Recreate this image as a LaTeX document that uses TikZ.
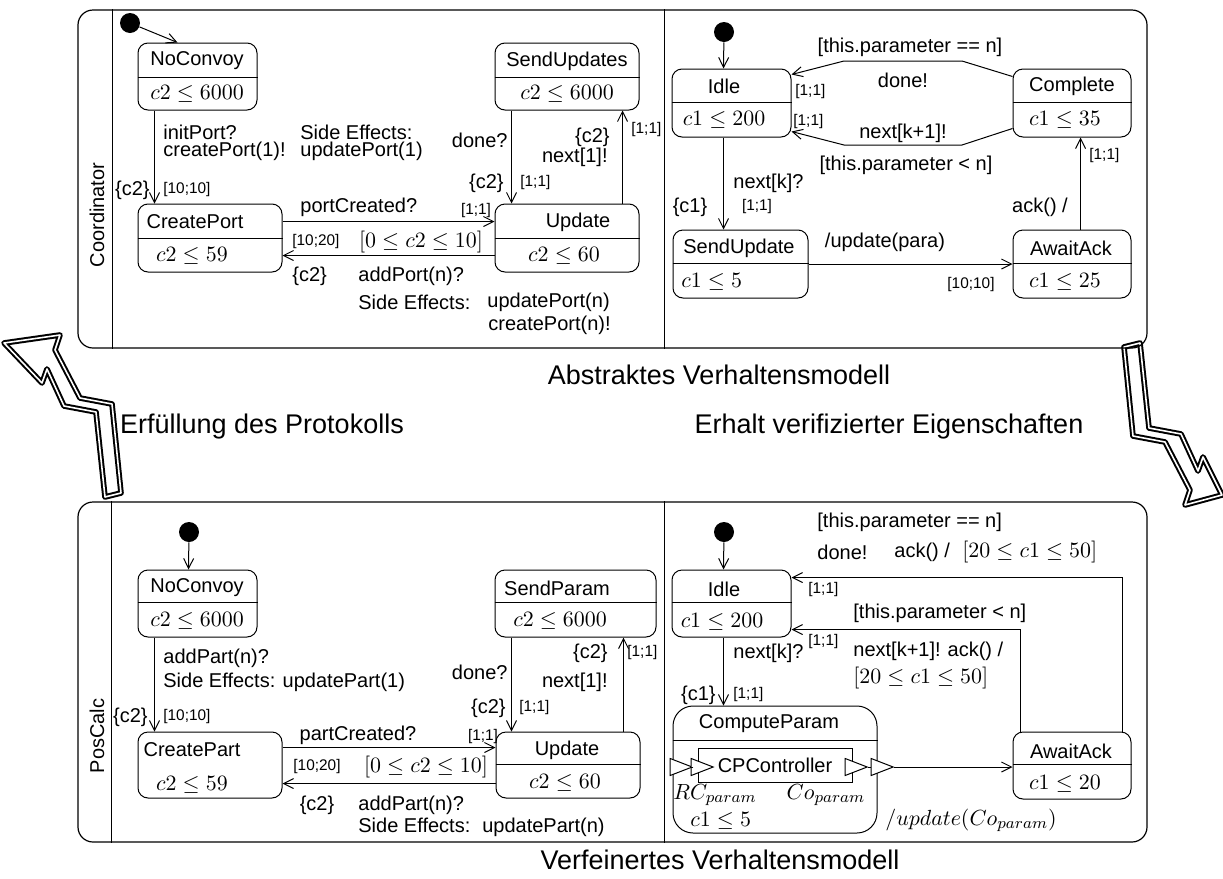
\documentclass[tikz,border=0pt]{standalone}
\usepackage{fontspec}
\setmainfont{Liberation Sans}
\usetikzlibrary{arrows.meta,fit,shapes.geometric}
\begin{document}
\begin{tikzpicture}[x=0.5pt,y=-0.5pt,
  every node/.style={inner sep=0pt, font=\fontsize{10}{12}\selectfont},
  sm/.style={font=\fontsize{7.7}{9}\selectfont},
  mth/.style={font=\fontsize{10.8}{13}\selectfont},
  caption/.style={font=\fontsize{13.5}{16}\selectfont},
  panel/.style={draw, line width=0.6pt, rounded corners=7.5pt},
  st/.style={draw, line width=0.5pt, rounded corners=5pt},
  tr/.style={draw, line width=0.5pt, -{Straight Barb[length=5pt,width=5pt]}},
  ln/.style={draw, line width=0.5pt},
  initdot/.style={circle, fill=black, minimum size=10pt},
  port/.style={draw, fill=white, line width=0.5pt, isosceles triangle,
    isosceles triangle stretches, minimum width=8.5pt, minimum height=11pt},
  bigarrow/.style={draw, fill=white, double, double distance=0.8pt,
    line width=1pt, line join=round}
]
\useasboundingbox (0,0) rectangle (1223,879);

% ---------- zigzag block arrows between the two models ----------
\draw[bigarrow] (4,343) -- (60,335) -- (55,350) -- (80,398) -- (112,404)
  -- (121,493) -- (105,497) -- (96,412) -- (64,406) -- (47,369)
  -- (42,383) -- cycle;
\draw[bigarrow] (1222,495) -- (1185,505) -- (1190,490) -- (1165,442)
  -- (1133,436) -- (1124,347) -- (1140,343) -- (1149,428) -- (1181,434)
  -- (1198,471) -- (1203,457) -- cycle;

% ---------- upper panel: Coordinator ----------
\node[panel, fit={(78,10) (1147,348)}] (topbox) {};
\draw[ln] ([xshift=17.5pt]topbox.north west) -- ([xshift=17.5pt]topbox.south west);
\draw[ln] ([xshift=293.5pt]topbox.north west) -- ([xshift=293.5pt]topbox.south west);
\node[rotate=90] (lc) at (97,215) {Coordinator};

% left region
\node[initdot] (i1) at (130,23) {};
\node[st, fit={(138,43) (257,110)}] (nc1) {};
\node[st, fit={(138,204) (282,272)}] (cp1) {};
\node[st, fit={(495,43) (639,110)}] (su1) {};
\node[st, fit={(495,204) (639,272)}] (up1) {};
\foreach \n in {nc1,cp1,su1,up1}
  \draw[ln] ([yshift=-17.5pt]\n.north west) -- ([yshift=-17.5pt]\n.north east);
\node (nc1a) at (197,61) {NoConvoy};
\node[mth] (nc1b) at (197,94) {$c2\le 6000$};
\node (cp1a) at (195,222) {CreatePort};
\node[mth] (cp1b) at (192,256) {$c2\le 59$};
\node (su1a) at (567,61) {SendUpdates};
\node[mth] (su1b) at (567,94) {$c2\le 6000$};
\node (up1a) at (578,222) {Update};
\node[mth] (up1b) at (564,256) {$c2\le 60$};

\draw[tr] (i1) -- ([xshift=20pt]nc1.north west);
\draw[tr] ([xshift=8.5pt]nc1.south west) -- ([xshift=8.5pt]cp1.north west);
\draw[tr] ([yshift=-9pt]cp1.north east) -- ([yshift=-9pt]up1.north west);
\draw[tr] ([yshift=8.5pt]up1.south west) -- ([yshift=8.5pt]cp1.south east);
\draw[tr] ([xshift=8.5pt]su1.south west) -- ([xshift=8.5pt]up1.north west);
\draw[tr] ([xshift=-8.5pt]up1.north east) -- ([xshift=-8.5pt]su1.south east);

\node[anchor=west] (la1) at (163,132) {initPort?};
\node[anchor=west] (la2) at (163,151) {createPort(1)!};
\node[anchor=west] (la3) at (300,132) {Side Effects:};
\node[anchor=west] (la4) at (300,151) {updatePort(1)};
\node[anchor=east] (la5) at (150,190) {\{c2\}};
\node[sm,anchor=west] (la6) at (163,190) {[10;10]};
\node[anchor=west] (la7) at (300,207) {portCreated?};
\node[sm] (la8) at (476,211) {[1;1]};
\node[sm,anchor=west] (la9) at (292,242) {[10;20]};
\node[mth] (la10) at (421,242) {$[0\le c2\le 10]$};
\node[anchor=west] (la11) at (292,276) {\{c2\}};
\node[anchor=west] (la12) at (358,276) {addPort(n)?};
\node[anchor=west] (la13) at (358,302) {Side Effects:};
\node[anchor=west] (la14) at (487,302) {updatePort(n)};
\node[anchor=west] (la15) at (488,325) {createPort(n)!};
\node[anchor=east] (la16) at (508,140) {done?};
\node[anchor=east] (la17) at (504,183) {\{c2\}};
\node[sm,anchor=west] (la18) at (520,183) {[1;1]};
\node[anchor=east] (la19) at (610,137) {\{c2\}};
\node[anchor=east] (la20) at (608,157) {next[1]!};
\node[sm,anchor=west] (la21) at (631,130) {[1;1]};

% right region
\node[initdot] (i2) at (724,32) {};
\node[st, fit={(672,69) (791,137)}] (idle1) {};
\node[st, fit={(1013,69) (1131,137)}] (comp) {};
\node[st, fit={(673,230) (808,298)}] (sup) {};
\node[st, fit={(1013,230) (1131,298)}] (aw1) {};
\foreach \n in {idle1,comp,sup,aw1}
  \draw[ln] ([yshift=-17pt]\n.north west) -- ([yshift=-17pt]\n.north east);
\node (ida) at (724,86) {Idle};
\node[mth] (idb) at (724,120) {$c1\le 200$};
\node (coa) at (1072,86) {Complete};
\node[mth] (cob) at (1065,120) {$c1\le 35$};
\node (sua) at (739,248) {SendUpdate};
\node[mth,anchor=west] (sub) at (681,282) {$c1\le 5$};
\node (awa) at (1071,248) {AwaitAck};
\node[mth] (awb) at (1065,282) {$c1\le 25$};

\draw[tr] (i2) -- ([xshift=26pt]idle1.north west);
\draw[tr] ([yshift=-4pt]comp.north west) -- (962,61) -- (844,61) -- ([yshift=-3pt]idle1.north east);
\draw[tr] ([yshift=4.5pt]comp.south west) -- (962,145) -- (844,145) -- ([yshift=3pt]idle1.south east);
\draw[tr] ([xshift=26pt]idle1.south west) -- ([xshift=25.5pt]sup.north west);
\draw[tr] (sup.east) -- (aw1.west);
\draw[tr] ([xshift=34pt]aw1.north west) -- ([xshift=34pt]comp.south west);

\node (ra1) at (910,47) {[this.parameter == n]};
\node (ra2) at (903,80) {done!};
\node[sm,anchor=west] (ra3) at (795,92) {[1;1]};
\node[sm,anchor=west] (ra4) at (793,122) {[1;1]};
\node (ra5) at (903,133) {next[k+1]!};
\node (ra6) at (906,165) {[this.parameter < n]};
\node[anchor=west] (ra7) at (733,183) {next[k]?};
\node (ra8) at (690,207) {\{c1\}};
\node[sm] (ra9) at (757,207) {[1;1]};
\node (ra10) at (885,242) {/update(para)};
\node[sm] (ra11) at (971,285) {[10;10]};
\node (ra12) at (1040,207) {ack() /};
\node[sm,anchor=west] (ra13) at (1089,156) {[1;1]};

% ---------- captions ----------
\node[caption] (m1) at (719,375) {Abstraktes Verhaltensmodell};
\node[caption] (m2) at (262,427) {Erfüllung des Protokolls};
\node[caption] (m3) at (889,427) {Erhalt verifizierter Eigenschaften};
\node[caption] (m4) at (720,860) {Verfeinertes Verhaltensmodell};

% ---------- lower panel: PosCalc ----------
\node[panel, fit={(78,502) (1147,842)}] (botbox) {};
\draw[ln] ([xshift=17pt]botbox.north west) -- ([xshift=17pt]botbox.south west);
\draw[ln] ([xshift=293.5pt]botbox.north west) -- ([xshift=293.5pt]botbox.south west);
\node[rotate=90] (lp) at (97,736) {PosCalc};

% left region
\node[initdot] (i3) at (189,532) {};
\node[st, fit={(138,570) (257,637)}] (nc2) {};
\node[st, fit={(138,732) (282,798)}] (cp2) {};
\node[st, fit={(495,570) (656,637)}] (sp) {};
\node[st, fit={(496,732) (640,798)}] (up2) {};
\foreach \n in {nc2,sp,up2}
  \draw[ln] ([yshift=-16.5pt]\n.north west) -- ([yshift=-16.5pt]\n.north east);
\node (nc2a) at (197,588) {NoConvoy};
\node[mth] (nc2b) at (197,621) {$c2\le 6000$};
\node (cp2a) at (192,750) {CreatePart};
\node[mth] (cp2b) at (192,785) {$c2\le 59$};
\node (spa) at (557,588) {SendParam};
\node[mth] (spb) at (560,621) {$c2\le 6000$};
\node (up2a) at (567,750) {Update};
\node[mth] (up2b) at (565,783) {$c2\le 60$};

\draw[tr] (i3) -- ([xshift=25.5pt]nc2.north west);
\draw[tr] ([xshift=8.5pt]nc2.south west) -- ([xshift=8.5pt]cp2.north west);
\draw[tr] ([yshift=-8pt]cp2.north east) -- ([yshift=-8pt]up2.north west);
\draw[tr] ([yshift=7.5pt]up2.south west) -- ([yshift=7.5pt]cp2.south east);
\draw[tr] ([xshift=8.5pt]sp.south west) -- ([xshift=8pt]up2.north west);
\draw[tr] ([xshift=-8.5pt]up2.north east) -- ([xshift=-16.5pt]sp.south east);

\node[anchor=west] (lb1) at (163,658) {addPart(n)?};
\node[anchor=west] (lb2) at (163,682) {Side Effects: updatePart(1)};
\node[anchor=east] (lb3) at (148,717) {\{c2\}};
\node[sm,anchor=west] (lb4) at (163,717) {[10;10]};
\node (lb5) at (358,735) {partCreated?};
\node[sm] (lb6) at (483,737) {[1;1]};
\node[sm] (lb7) at (317,767) {[10;20]};
\node[mth] (lb8) at (426,767) {$[0\le c2\le 10]$};
\node (lb9) at (317,805) {\{c2\}};
\node[anchor=west] (lb10) at (358,805) {addPart(n)?};
\node[anchor=west] (lb11) at (358,827) {Side Effects:\hspace{0.6em}updatePart(n)};
\node[anchor=east] (lb12) at (508,672) {done?};
\node[anchor=east] (lb13) at (506,708) {\{c2\}};
\node[sm,anchor=west] (lb14) at (519,708) {[1;1]};
\node[anchor=east] (lb15) at (608,653) {\{c2\}};
\node[sm,anchor=west] (lb16) at (627,653) {[1;1]};
\node[anchor=east] (lb17) at (608,682) {next[1]!};

% right region
\node[initdot] (i4) at (724,532) {};
\node[st, fit={(672,570) (791,637)}] (idle2) {};
\node[st, fit={(1013,732) (1131,799)}] (aw2) {};
\node[st, rounded corners=10pt, fit={(673,706) (877,833)}] (cpar) {};
\foreach \n in {idle2,aw2}
  \draw[ln] ([yshift=-16.5pt]\n.north west) -- ([yshift=-16.5pt]\n.north east);
\draw[ln] ([yshift=-17.5pt]cpar.north west) -- ([yshift=-17.5pt]cpar.north east);
\node (id2a) at (724,589) {Idle};
\node[mth] (id2b) at (722,622) {$c1\le 200$};
\node (aw2a) at (1071,751) {AwaitAck};
\node[mth] (aw2b) at (1065,784) {$c1\le 20$};
\node (cpa) at (769,724) {ComputeParam};
\node[draw, line width=0.5pt, minimum width=77pt, minimum height=17pt] (cpc) at (775,765) {CPController};
\node[port] (p1) at (676,767) {};
\node[port] (p2) at (697,767) {};
\node[port] (p3) at (851,767) {};
\node[port] (p4) at (877,767) {};

\draw[tr] (i4) -- ([xshift=26pt]idle2.north west);
\draw[tr] ([xshift=55pt]aw2.north west) |- ([yshift=-4pt]idle2.north east);
\draw[tr] ([xshift=4pt]aw2.north west) |- ([yshift=4pt]idle2.south east);
\draw[tr] ([xshift=26pt]idle2.south west) -- ([xshift=25.5pt]cpar.north west);
\draw[ln] (p1.east) -- (p2.west);
\draw[ln] (p3.east) -- (p4.west);
\draw[tr] (p4.east) -- (p4.east -| aw2.west);

\node[anchor=west] (rb1) at (817,522) {[this.parameter == n]};
\node[anchor=west] (rb2) at (817,552) {done!};
\node[anchor=west] (rb3) at (894,552) {ack() /};
\node[mth,anchor=west] (rb4) at (962,552) {$[20\le c1\le 50]$};
\node[sm,anchor=west] (rb5) at (808,590) {[1;1]};
\node[anchor=west] (rb6) at (853,613) {[this.parameter < n]};
\node[sm,anchor=west] (rb7) at (808,642) {[1;1]};
\node[anchor=west] (rb8) at (853,651) {next[k+1]!\hspace{0.35em}ack() /};
\node[mth,anchor=west] (rb9) at (853,678) {$[20\le c1\le 50]$};
\node[anchor=west] (rb10) at (733,653) {next[k]?};
\node[anchor=east] (rb11) at (716,695) {\{c1\}};
\node[sm,anchor=west] (rb12) at (733,695) {[1;1]};
\node[mth,anchor=west] (rb13) at (673,795) {$RC_{param}$};
\node[mth] (rb14) at (826,795) {$Co_{param}$};
\node[mth,anchor=west] (rb15) at (690,821) {$c1\le 5$};
\node[mth,anchor=west] (rb16) at (885,820) {$/update(Co_{param})$};
\end{tikzpicture}
\end{document}
